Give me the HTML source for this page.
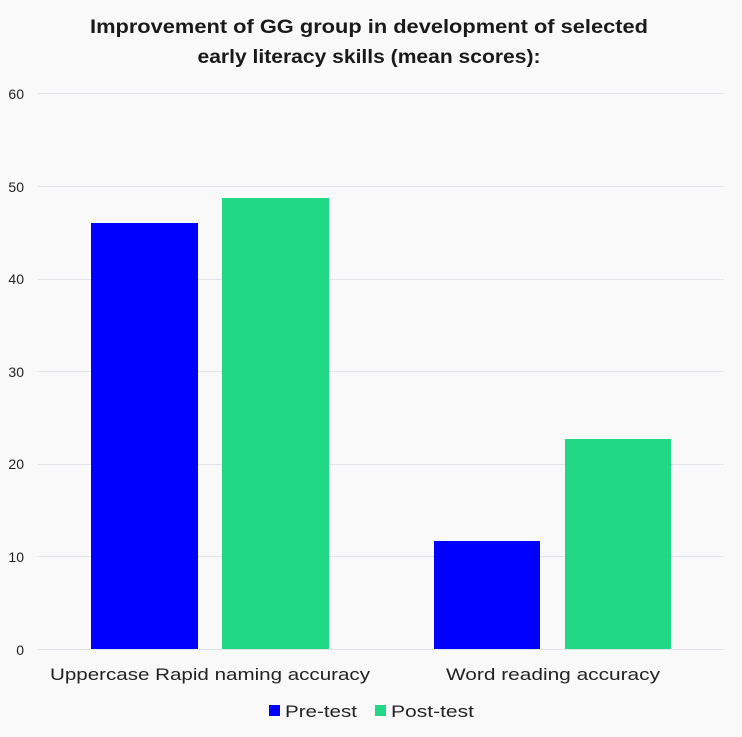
<!DOCTYPE html>
<html>
<head>
<meta charset="utf-8">
<style>
  html, body { margin: 0; padding: 0; background: #f9f9f9; }
  svg { display: block; }
  text { font-family: "Liberation Sans", "DejaVu Sans", sans-serif; }
</style>
</head>
<body>
<svg width="742" height="737" viewBox="0 0 742 737" xmlns="http://www.w3.org/2000/svg">
  <rect x="0" y="0" width="742" height="737" fill="#f9f9f9"/>

  <!-- Title -->
  <text x="369" y="33" text-anchor="middle" font-size="19" font-weight="bold" fill="#1a1a1a" textLength="558" lengthAdjust="spacingAndGlyphs">Improvement of GG group in development of selected</text>
  <text x="369" y="63" text-anchor="middle" font-size="19" font-weight="bold" fill="#1a1a1a" textLength="343" lengthAdjust="spacingAndGlyphs">early literacy skills (mean scores):</text>

  <!-- Gridlines -->
  <g stroke="#e1e4ea" stroke-width="1">
    <line x1="38" y1="93.5" x2="724" y2="93.5"/>
    <line x1="38" y1="186.5" x2="724" y2="186.5"/>
    <line x1="38" y1="279.5" x2="724" y2="279.5"/>
    <line x1="38" y1="371.5" x2="724" y2="371.5"/>
    <line x1="38" y1="464.5" x2="724" y2="464.5"/>
    <line x1="38" y1="556.5" x2="724" y2="556.5"/>
    <line x1="38" y1="649.5" x2="724" y2="649.5"/>
  </g>

  <!-- Y tick labels -->
  <g font-size="14" fill="#222" text-anchor="end">
    <text x="24" y="99">60</text>
    <text x="24" y="192">50</text>
    <text x="24" y="284">40</text>
    <text x="24" y="377">30</text>
    <text x="24" y="469">20</text>
    <text x="24" y="562">10</text>
    <text x="24" y="655">0</text>
  </g>

  <!-- Bars -->
  <rect x="91" y="223" width="107" height="426" fill="#0000ff"/>
  <rect x="222" y="198" width="107" height="451" fill="#21d887"/>
  <rect x="434" y="541" width="106" height="108" fill="#0000ff"/>
  <rect x="565" y="439" width="106" height="210" fill="#21d887"/>

  <!-- Category labels -->
  <text x="210" y="680" text-anchor="middle" font-size="17" fill="#222" textLength="320" lengthAdjust="spacingAndGlyphs">Uppercase Rapid naming accuracy</text>
  <text x="553" y="680" text-anchor="middle" font-size="17" fill="#222" textLength="214" lengthAdjust="spacingAndGlyphs">Word reading accuracy</text>

  <!-- Legend -->
  <rect x="269" y="705" width="11" height="11" fill="#0000ff"/>
  <text x="285" y="717" font-size="17" fill="#222" textLength="72" lengthAdjust="spacingAndGlyphs">Pre-test</text>
  <rect x="375" y="705" width="11" height="11" fill="#21d887"/>
  <text x="391" y="717" font-size="17" fill="#222" textLength="83" lengthAdjust="spacingAndGlyphs">Post-test</text>
</svg>
</body>
</html>
